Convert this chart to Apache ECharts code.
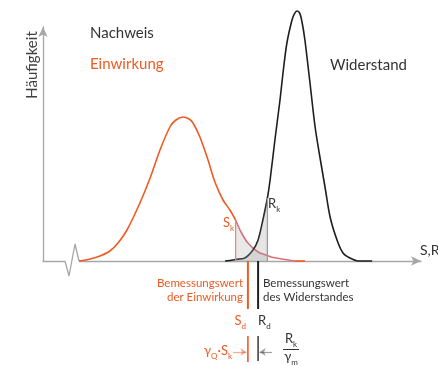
<!DOCTYPE html>
<html>
<head>
<meta charset="utf-8">
<script src="https://cdn.jsdelivr.net/npm/echarts@6/dist/echarts.min.js"></script>
<style>
  html, body { margin: 0; padding: 0; background: #fff; }
  #chart { width: 438px; height: 366px; }
</style>
</head>
<body>
<div id="chart"></div>
<script>
// Einheiten: x = S,R (1 Einheit = 3 px), y = Häufigkeit (1 Einheit = 2 px)
const einwirkung = [[12, 0], [15.7, 1], [19, 2.5], [22.3, 5], [25, 9], [28, 15.5], [32.3, 29], [35.7, 41.5],
    [39, 55.5], [42.3, 67], [44.3, 70.5], [46.7, 72], [48.7, 71], [50, 69], [52.3, 62], [55, 50.5],
    [57.3, 39.5], [60, 30.5], [62.3, 25.5], [64.2, 20.5]];
const einwirkungTail = [[64.2, 20.5], [66, 14.5], [68.3, 9], [71.7, 4.5], [74.8, 2.7], [76, 2], [81.7, 0.5], [84, 0]];
const einwirkungEnd = [[84, 0], [87.3, 0]];
const widerstand = [[60.7, 0], [63.3, 0.5], [64.2, 0.8], [67.3, 1.5], [70, 5.5], [71.7, 10.5], [73.3, 20.5],
    [74.8, 31.5], [75.7, 40.5], [77.3, 60.5], [79, 80.5], [80, 94], [81.3, 109], [83, 120.5], [83.8, 123.6],
    [84.7, 125], [85.6, 123.8], [86.4, 119], [87.3, 110.5], [89, 89], [90.7, 67], [92.3, 52], [94, 37],
    [95.7, 22], [98, 10.5], [100, 4], [102.3, 1.5], [105, 0], [109.7, 0]];

const sk = 64.2, rk = 74.8;       // charakteristische Werte
const sd = 68.3, rd = 71.7;       // Bemessungswerte
const zigzag = [[7.33, 0], [8.67, -7.5], [10.67, 8.5], [12, 0]];

const orange = '#f05a23';
const dark = '#1e1e1e';
const axisColor = '#a6a6a6';

const between = (arr, a, b) => arr.filter(p => p[0] >= a - 1e-9 && p[0] <= b + 1e-9);
const heightAt = (arr, x) => arr.find(p => Math.abs(p[0] - x) < 1e-9)[1];

function vline(x, y0, y1, color, width, z) {
    return {
        type: 'line', data: [[x, y0], [x, y1]], symbol: 'none', clip: false, silent: true,
        lineStyle: { color: color, width: width }, z: z || 6
    };
}

const chart = echarts.init(document.getElementById('chart'), null, { renderer: 'canvas' });

const font = 'Lato, "Open Sans", sans-serif';
function sub(main, s, size, color) {
    return {
        text: '{m|' + main + '}{s|' + s + '}',
        rich: {
            m: { fontSize: size, fontFamily: font, fill: color, lineHeight: 16, verticalAlign: 'top' },
            s: { fontSize: 8, fontFamily: font, fill: color, lineHeight: 16, verticalAlign: 'bottom' }
        }
    };
}
function txt(x, y, style, extra) {
    return Object.assign({ type: 'text', x: x, y: y, silent: true, style: style }, extra || {});
}

const option = {
    animation: false,
    grid: { left: 43, right: 17, top: 27, bottom: 105 },
    xAxis: {
        type: 'value', min: 0, max: 126,
        axisLine: { show: true, lineStyle: { color: axisColor, width: 1.3 }, symbol: ['none', 'arrow'], symbolSize: [7, 10] },
        axisTick: { show: false }, axisLabel: { show: false }, splitLine: { show: false }
    },
    yAxis: {
        type: 'value', min: 0, max: 117,
        axisLine: { show: true, lineStyle: { color: axisColor, width: 1.3 }, symbol: ['none', 'arrow'], symbolSize: [7, 10] },
        axisTick: { show: false }, axisLabel: { show: false }, splitLine: { show: false }
    },
    series: [
        // Achsenbruch
        { type: 'line', data: [zigzag[0], zigzag[3]], symbol: 'none', clip: false, lineStyle: { color: '#fff', width: 4 }, z: 3 },
        { type: 'line', data: zigzag, symbol: 'none', clip: false, lineStyle: { color: axisColor, width: 1.3 }, z: 4 },
        // Einwirkung
        { type: 'line', data: einwirkung, symbol: 'none', smooth: 0.3, clip: false, lineStyle: { color: orange, width: 1.6 }, z: 5 },
        { type: 'line', data: einwirkungTail, symbol: 'none', smooth: 0.3, clip: false, lineStyle: { color: '#d9707a', width: 1.6 }, z: 5 },
        { type: 'line', data: einwirkungEnd, symbol: 'none', clip: false, lineStyle: { color: orange, width: 1.6 }, z: 5 },
        // Widerstand
        { type: 'line', data: widerstand, symbol: 'none', smooth: 0.3, clip: false, lineStyle: { color: dark, width: 1.6 }, z: 5 },
        // schraffierte Fläche zwischen Sk und Rk
        { type: 'line', data: between(widerstand, sk, rk), symbol: 'none', smooth: 0.3, lineStyle: { width: 0 },
          areaStyle: { color: 'rgba(150,150,150,0.35)', origin: 'start' }, z: 7 },
        { type: 'line', data: between(einwirkungTail, sk, rk), symbol: 'none', smooth: 0.3, lineStyle: { width: 0 },
          areaStyle: { color: 'rgba(160,155,158,0.32)', origin: 'start' }, z: 7 },
        vline(sk, 0, heightAt(einwirkung, sk), '#d98c8c', 1.3, 8),
        vline(rk, 0, heightAt(widerstand, rk), '#9a9a9a', 1.3, 8),
        // Bemessungswerte
        vline(sd, 0, -24, orange, 2),
        vline(rd, 0, -24, dark, 2),
        vline(sd, -37.5, -50.5, orange, 1.6),
        vline(rd, -37.5, -50, '#444', 1.6),
        {
            type: 'lines', coordinateSystem: 'cartesian2d', clip: false, silent: true, z: 6,
            symbol: ['none', 'arrow'], symbolSize: 6,
            data: [
                { coords: [[63.3, -45.5], [67.8, -45.5]], lineStyle: { color: orange, width: 1.2 } },
                { coords: [[76.3, -45.5], [72.2, -45.5]], lineStyle: { color: '#444', width: 1.2 } }
            ]
        }
    ],
    graphic: [
        txt(32, 65, { text: 'Häufigkeit', fill: '#404040', font: '15px ' + font, align: 'center', verticalAlign: 'middle' }, { rotation: Math.PI / 2 }),
        txt(90, 33, { text: 'Nachweis', fill: '#333', font: '15px ' + font, align: 'left', verticalAlign: 'middle' }),
        txt(90, 64, { text: 'Einwirkung', fill: orange, font: '15px ' + font, align: 'left', verticalAlign: 'middle' }),
        txt(330, 65, { text: 'Widerstand', fill: '#333', font: '15px ' + font, align: 'left', verticalAlign: 'middle' }),
        txt(420, 250, { text: 'S,R', fill: '#333', font: '14px ' + font, align: 'left', verticalAlign: 'middle' }),
        txt(234, 224, Object.assign(sub('S', 'k', 13, orange), { align: 'right', verticalAlign: 'middle' })),
        txt(268, 205, Object.assign(sub('R', 'k', 13, '#333'), { align: 'left', verticalAlign: 'middle' })),
        txt(243, 276, { text: 'Bemessungswert\nder Einwirkung', fill: orange, font: '11.5px ' + font, lineHeight: 14, align: 'right', verticalAlign: 'top' }),
        txt(263, 276, { text: 'Bemessungswert\ndes Widerstandes', fill: '#333', font: '11.5px ' + font, lineHeight: 14, align: 'left', verticalAlign: 'top' }),
        txt(246, 322, Object.assign(sub('S', 'd', 13, orange), { align: 'right', verticalAlign: 'middle' })),
        txt(258, 322, Object.assign(sub('R', 'd', 13, '#333'), { align: 'left', verticalAlign: 'middle' })),
        txt(232, 352, {
            text: '{m|γ}{s|Q}{m|·S}{s|k}', align: 'right', verticalAlign: 'middle',
            rich: {
                m: { fontSize: 13, fontFamily: font, fill: orange, lineHeight: 16, verticalAlign: 'top' },
                s: { fontSize: 8, fontFamily: font, fill: orange, lineHeight: 16, verticalAlign: 'bottom' }
            }
        }),
        txt(291, 340, Object.assign(sub('R', 'k', 13, '#333'), { align: 'center', verticalAlign: 'middle' })),
        { type: 'line', silent: true, shape: { x1: 283, y1: 349.5, x2: 299, y2: 349.5 }, style: { stroke: '#333', lineWidth: 1 } },
        txt(291, 358, Object.assign(sub('γ', 'm', 13, '#333'), { align: 'center', verticalAlign: 'middle' }))
    ]
};

chart.setOption(option);
</script>
</body>
</html>
